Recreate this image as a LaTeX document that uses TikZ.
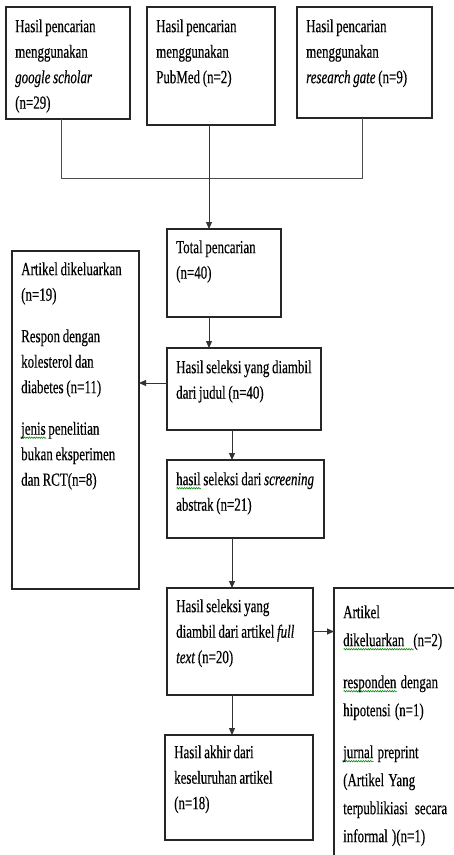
\documentclass[tikz,border=0pt]{standalone}
\usepackage{fontspec}
\setmainfont{Liberation Serif}[FakeStretch=0.7,FakeBold=0.4]
\usetikzlibrary{arrows.meta,decorations.pathmorphing}
\newcommand\firststrut{\spaceskip=2.7pt plus 0.5pt\relax\xspaceskip=2.7pt plus 0.5pt\relax\rule{0pt}{15pt}}
\newcommand\firststrutr{\spaceskip=4.2pt plus 0.5pt\relax\xspaceskip=4.2pt plus 0.5pt\relax\rule{0pt}{15pt}}
\newlength\wavylen
\newcommand\wavy[1]{\leavevmode\settowidth\wavylen{#1}\rlap{\tikz[baseline=0pt]\draw[green!55!black, line width=0.6pt, decorate, decoration={snake, amplitude=0.7pt, segment length=2.4pt}] (0pt,-3pt) -- (\wavylen,-3pt);}#1}
\begin{document}
\begin{tikzpicture}[x=1pt,y=-1pt,
  box/.style={draw=black!85, line width=1.1pt, anchor=north west, inner sep=0pt, outer sep=0pt},
  txt/.style={anchor=north west, inner sep=0pt, align=left, text width=#1, font=\fontsize{18.5}{25.5}\selectfont, text=black},
  txtr/.style={anchor=north west, inner sep=0pt, align=left, text width=#1, font=\fontsize{18.5}{28}\selectfont, text=black},
  arr/.style={draw=black!80, line width=0.9pt, -{Triangle[length=7pt,width=6pt]}},
  ln/.style={draw=black!70, line width=0.9pt}]
\useasboundingbox (0,0) rectangle (454,855);
\clip (0,0) rectangle (454,855);
% boxes
\node[box, minimum width=124pt, minimum height=112pt] (b1) at (6,7) {};
\node[box, minimum width=128pt, minimum height=118pt] (b2) at (147,7) {};
\node[box, minimum width=135pt, minimum height=111pt] (b3) at (297,7) {};
\node[box, minimum width=114pt, minimum height=88pt] (total) at (167,229) {};
\node[box, minimum width=127pt, minimum height=338pt] (left) at (12,251) {};
\node[box, minimum width=154pt, minimum height=82pt] (judul) at (167,348) {};
\node[box, minimum width=157pt, minimum height=78pt] (screen) at (167,460) {};
\node[box, minimum width=146pt, minimum height=107pt] (full) at (167,588) {};
\node[box, minimum width=150pt, minimum height=300pt] (right) at (334,588) {};
\node[box, minimum width=148pt, minimum height=105pt] (final) at (165,735) {};
% texts
\node[txt=160pt] (t1) at ([shift={(9,10)}]b1.north west) {\firststrut Hasil pencarian\\ menggunakan\\ \textit{google scholar}\\ (n=29)};
\node[txt=160pt] (t2) at ([shift={(9,10)}]b2.north west) {\firststrut Hasil pencarian\\ menggunakan\\ PubMed (n=2)};
\node[txt=160pt] (t3) at ([shift={(9,10)}]b3.north west) {\firststrut Hasil pencarian\\ menggunakan\\ \textit{research gate} (n=9)};
\node[txt=160pt] (ttotal) at ([shift={(9,9)}]total.north west) {\firststrut Total pencarian\\ (n=40)};
\node[txt=160pt] (tleft) at ([shift={(9,9)}]left.north west) {\firststrut Artikel dikeluarkan\\ (n=19)\\[16pt] Respon dengan\\ kolesterol dan\\ diabetes (n=11)\\[16pt] \wavy{jenis} penelitian\\ bukan eksperimen\\ dan RCT(n=8)};
\node[txt=160pt] (tjudul) at ([shift={(9,10)}]judul.north west) {\firststrut Hasil seleksi yang diambil\\ dari judul (n=40)};
\node[txt=160pt] (tscreen) at ([shift={(9,10)}]screen.north west) {\firststrut \wavy{hasil} seleksi dari \textit{screening}\\ abstrak (n=21)};
\node[txt=160pt] (tfull) at ([shift={(9,9)}]full.north west) {\firststrut Hasil seleksi yang\\ diambil dari artikel \textit{full}\\ \textit{text} (n=20)};
\node[txt=160pt] (tfinal) at ([shift={(9,8)}]final.north west) {\firststrut Hasil akhir dari\\ keseluruhan artikel\\ (n=18)};
\node[txtr=120pt] (tright) at ([shift={(9,15)}]right.north west) {\firststrutr Artikel\\ \wavy{dikeluarkan\hspace{9pt}}(n=2)\\[14pt] \wavy{responden} dengan\\ hipotensi (n=1)\\[14pt] \wavy{jurnal} preprint\\ (Artikel Yang\\ \makebox[104pt][s]{terpublikiasi secara}\\ informal )(n=1)};
% connectors
\draw[ln] ([xshift=-7pt]b1.south) -- ++(0,59) -| ([xshift=-2.5pt]b3.south);
\draw[arr] ([xshift=-2pt]b2.south) -- ([xshift=-2pt]b2.south |- total.north);
\draw[arr] ([xshift=42pt]total.south west) -- ([xshift=42pt]total.south west |- judul.north);
\draw[arr] ([yshift=6pt]judul.west) -- ([yshift=6pt]judul.west -| left.east);
\draw[arr] ([xshift=65pt]judul.south west) -- ([xshift=65pt]judul.south west |- screen.north);
\draw[arr] ([xshift=65pt]screen.south west) -- ([xshift=65pt]screen.south west |- full.north);
\draw[arr] ([yshift=10pt]full.east) -- ([yshift=10pt]full.east -| right.west);
\draw[arr] ([xshift=65pt]full.south west) -- ([xshift=65pt]full.south west |- final.north);
\end{tikzpicture}
\end{document}
